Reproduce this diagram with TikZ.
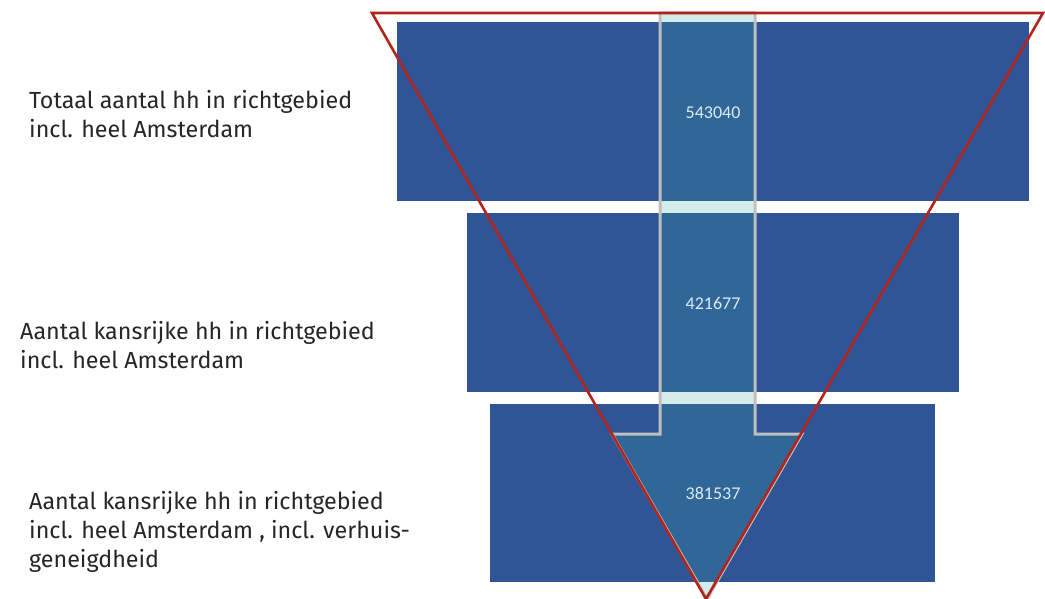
\documentclass[tikz,border=0pt]{standalone}
\usepackage{fontspec}
\setmainfont{Fira Sans}
\newfontfamily\valfont{Carlito}
\definecolor{barblue}{HTML}{2F5597}
\definecolor{funnelred}{HTML}{B0261C}
\definecolor{arrowgray}{HTML}{BFBFBF}
\definecolor{arrowteal}{HTML}{39AB9D}
\definecolor{valtext}{HTML}{DCEAF2}

\begin{document}
\begin{tikzpicture}[x=1pt, y=-1pt,
    lbl/.style={anchor=base west, align=left, inner sep=0pt, text=black!85,
                font=\fontsize{23.3}{29}\selectfont},
    val/.style={text=valtext, font=\valfont\fontsize{18}{20}\selectfont}]
            \useasboundingbox (0,0) rectangle (1045,599);
            \begin{scope}
            \clip (0,0) rectangle (1045,599);

            % Bars
            \fill[barblue] (397,22) rectangle (1029,201);
            \fill[barblue] (467,213) rectangle (959,392);
            \fill[barblue] (490,404) rectangle (935,582);

            % Arrow down the middle (see-through fill)
            \draw[arrowgray, line width=3pt, fill=arrowteal, fill opacity=0.21]
                (660,13) -- (755,13) -- (755,434) -- (802,434) -- (707,599)
                -- (612,434) -- (660,434) -- cycle;

            % Funnel outline
            \draw[funnelred, line width=2.6pt] (372,13) -- (1043,13) -- (706,599) -- cycle;
            \end{scope}

            % Values
            \node[val] (v1) at (713,113) {543040};
            \node[val] (v2) at (713,303) {421677};
            \node[val] (v3) at (713,493) {381537};

            % Labels (base = last line)
            \node[lbl] (l1) at (29,138) {Totaal aantal hh in richtgebied\\incl. heel Amsterdam};
            \node[lbl] (l2) at (20,368) {Aantal kansrijke hh in richtgebied\\incl. heel Amsterdam};
            \node[lbl] (l3) at (29,567) {Aantal kansrijke hh in richtgebied\\incl. heel Amsterdam , incl. verhuis-\\geneigdheid};
        \end{tikzpicture}
\end{document}
